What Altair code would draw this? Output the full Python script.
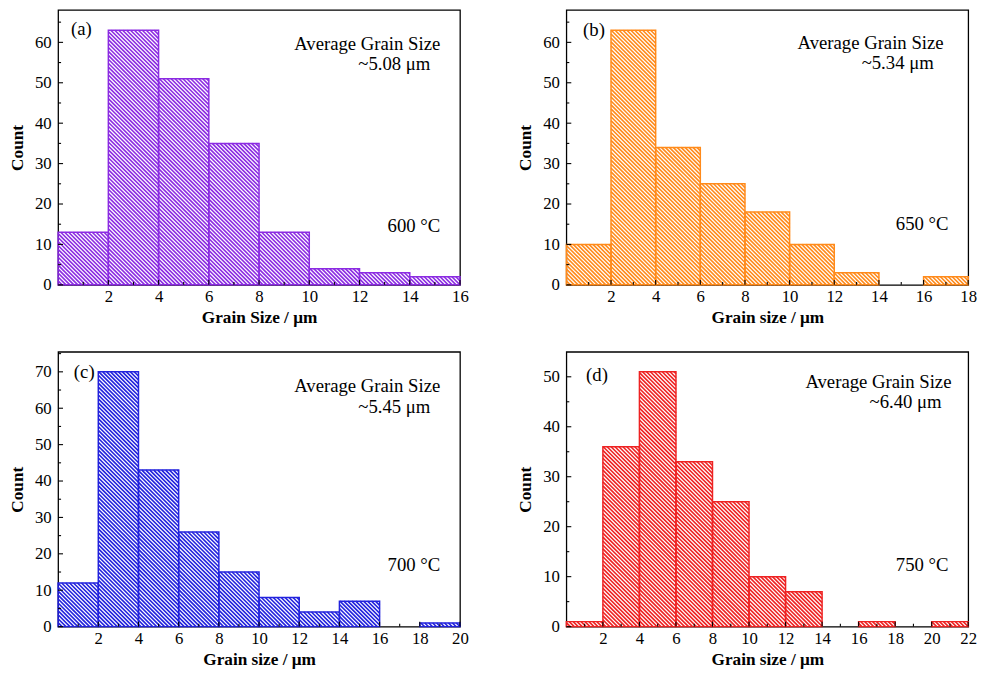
import altair as alt
import pandas as pd

# ---------------- data ----------------
bin_width = 2
counts_a = [13, 63, 51, 35, 13, 4, 3, 2]
counts_b = [10, 63, 34, 25, 18, 10, 3, 0, 2]
counts_c = [12, 70, 43, 26, 15, 8, 4, 7, 0, 1]
counts_d = [1, 36, 51, 33, 25, 10, 7, 0, 1, 0, 1]
panel_tags = ["(a)", "(b)", "(c)", "(d)"]
avg_title = "Average Grain Size"
avg_values = ["~5.08 μm", "~5.34 μm", "~5.45 μm", "~6.40 μm"]
temperatures = ["600 °C", "650 °C", "700 °C", "750 °C"]
x_titles = ["Grain Size / μm", "Grain size / μm", "Grain size / μm", "Grain size / μm"]
x_max = [16, 18, 20, 22]
y_max = [68, 68, 75.5, 55]
y_major = [[0, 10, 20, 30, 40, 50, 60], [0, 10, 20, 30, 40, 50, 60],
           [0, 10, 20, 30, 40, 50, 60, 70], [0, 10, 20, 30, 40, 50]]
y_minor = [[5, 15, 25, 35, 45, 55, 65], [5, 15, 25, 35, 45, 55, 65],
           [5, 15, 25, 35, 45, 55, 65, 75], [5, 15, 25, 35, 45, 55]]
x_major = [[2, 4, 6, 8, 10, 12, 14, 16], [2, 4, 6, 8, 10, 12, 14, 16, 18],
           [2, 4, 6, 8, 10, 12, 14, 16, 18, 20], [2, 4, 6, 8, 10, 12, 14, 16, 18, 20, 22]]
x_minor = [[1, 3, 5, 7, 9, 11, 13, 15], [1, 3, 5, 7, 9, 11, 13, 15, 17],
           [1, 3, 5, 7, 9, 11, 13, 15, 17, 19], [1, 3, 5, 7, 9, 11, 13, 15, 17, 19, 21]]
colors = ["#8B2BE2", "#FF8A1A", "#2222DD", "#EE2222"]

# ---------------- style ----------------
W, H = 408, 279
FONT = "Liberation Serif"
G = 4.0          # hatch period (px, horizontal)
tag_xy = [(13, 19), (17, 20), (16, 21), (20, 24)]
avg_xy = [(20, 35, 30, 55), (25, 34, 35, 54), (20, 35, 30, 56), (17, 31, 27, 51)]
temp_xy = [(20, 219), (20, 217), (20, 217), (20, 217)]


def text_layer(txt, x, y, align):
    return alt.Chart(pd.DataFrame({"t": [txt]})).mark_text(
        font=FONT, fontSize=19, align=align, baseline="middle", color="black"
    ).encode(text="t:N", x=alt.value(x), y=alt.value(y))


def panel(i, counts):
    xm, ym, col = x_max[i], y_max[i], colors[i]
    pxu, pyu = W / xm, H / ym
    df = pd.DataFrame({"x0": [j * bin_width for j in range(len(counts))], "count": counts})
    df["x1"] = df["x0"] + bin_width
    xs = alt.Scale(domain=[0, xm], nice=False, zero=False)
    ys = alt.Scale(domain=[0, ym], nice=False, zero=False)
    ax = alt.Axis(values=x_major[i], title=x_titles[i], ticks=False, grid=False,
                  labelPadding=4, titlePadding=4, labelFlush=False)
    ay = alt.Axis(values=y_major[i], title="Count", ticks=False, grid=False,
                  labelPadding=7, titlePadding=8, labelFlush=False)

    base = alt.Chart(df).transform_filter("datum.count > 0")

    hatch = (
        base.transform_calculate(u0=f"datum.x0*{pxu}", u1=f"datum.x1*{pxu}", V=f"datum.count*{pyu}")
        .transform_calculate(k=f"sequence(ceil(datum.u0/{G})*{G}, datum.u1 + datum.V + 0.001, {G})")
        .transform_flatten(["k"])
        .transform_calculate(us="max(datum.u0, datum.k - datum.V)", ue="min(datum.u1, datum.k)")
        .transform_filter("datum.ue > datum.us")
        .transform_calculate(
            hx=f"datum.us/{pxu}", hy=f"(datum.k - datum.us)/{pyu}",
            hx2=f"datum.ue/{pxu}", hy2=f"(datum.k - datum.ue)/{pyu}",
        )
        .mark_rule(color=col, strokeWidth=1.6)
        .encode(
            x=alt.X("hx:Q", scale=xs, axis=ax), x2="hx2:Q",
            y=alt.Y("hy:Q", scale=ys, axis=ay), y2="hy2:Q",
        )
    )

    bars = base.mark_rect(fillOpacity=0, stroke=col, strokeWidth=1.5).encode(
        x=alt.X("x0:Q", scale=xs, axis=ax), x2="x1:Q",
        y=alt.Y("count:Q", scale=ys, axis=ay), y2=alt.datum(0),
    )

    def xt(values, length):
        return alt.Chart(pd.DataFrame({"v": values})).mark_rule(color="black", strokeWidth=1.1).encode(
            x=alt.X("v:Q", scale=xs, axis=ax), y=alt.value(H), y2=alt.value(H - length))

    def yt(values, length):
        return alt.Chart(pd.DataFrame({"v": values})).transform_filter(f"datum.v < {ym}").mark_rule(
            color="black", strokeWidth=1.1).encode(
            y=alt.Y("v:Q", scale=ys, axis=ay), x=alt.value(0), x2=alt.value(length))

    ticks = [xt(x_major[i], 5), xt(x_minor[i], 3), yt(y_major[i], 5), yt(y_minor[i], 3)]

    tx, ty = tag_xy[i]
    ax1, ay1, ax2, ay2 = avg_xy[i]
    px_, py_ = temp_xy[i]
    texts = [
        text_layer(panel_tags[i], tx, ty, "left"),
        text_layer(avg_title, W - ax1, ay1, "right"),
        text_layer(avg_values[i], W - ax2, ay2, "right"),
        text_layer(temperatures[i], W - px_, py_, "right"),
    ]

    return alt.layer(hatch, bars, *ticks, *texts).properties(width=W, height=H)


pa = panel(0, counts_a)
pb = panel(1, counts_b)
pc = panel(2, counts_c)
pd_ = panel(3, counts_d)

chart = (
    alt.vconcat(
        alt.hconcat(pa, pb, spacing=47),
        alt.hconcat(pc, pd_, spacing=47),
        spacing=24,
    )
    .properties(padding={"left": 8, "top": 4, "right": 5, "bottom": 5}, background="white")
    .configure_view(stroke="black", strokeWidth=1.3)
    .configure_axis(
        labelFont=FONT, labelFontSize=17, labelColor="black",
        titleFont=FONT, titleFontSize=17.5, titleFontWeight="bold", titleColor="black",
        domain=False, grid=False,
    )
)

chart.save("out.html", embed_options={"renderer": "svg", "actions": False})
